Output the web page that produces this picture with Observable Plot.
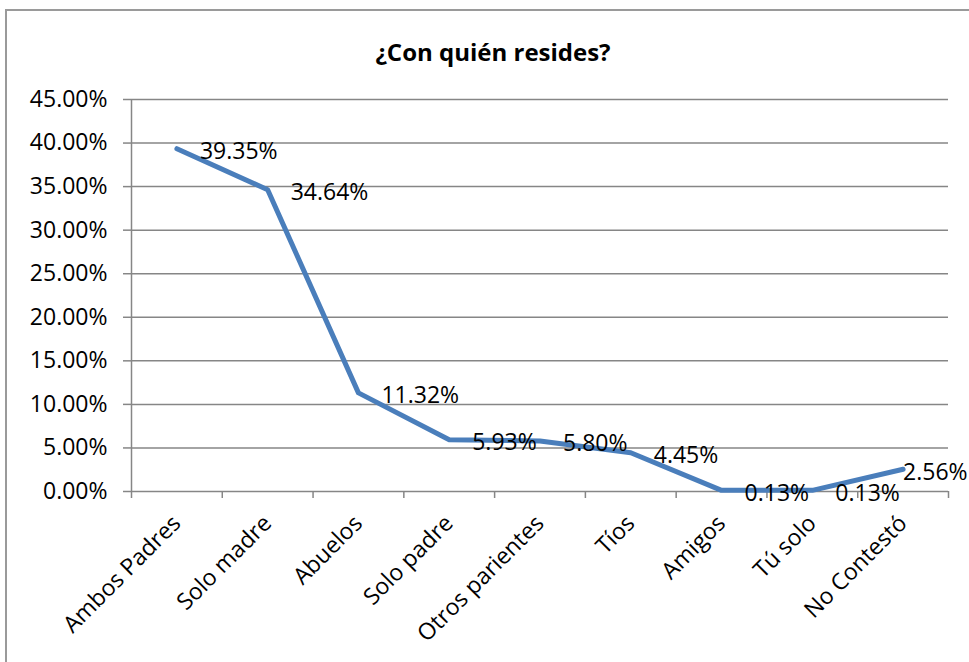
<!DOCTYPE html>
<html>
<head>
<meta charset="utf-8">
<script src="https://cdn.jsdelivr.net/npm/d3@7"></script>
<script src="https://cdn.jsdelivr.net/npm/@observablehq/plot@0.6"></script>
<style>
  html, body { margin: 0; padding: 0; background: #fff; overflow: hidden; width: 969px; height: 662px; }
  #wrap { position: relative; width: 969px; height: 662px; }
  #frame { position: absolute; left: 5px; top: 9px; width: 1000px; height: 700px; border: 2px solid #9a9a9a; box-sizing: border-box; }
  #title { position: absolute; left: 0; top: 35px; width: 986px; text-align: center; font-family: "Open Sans", sans-serif; font-weight: bold; font-size: 24px; color: #000; }
  #chart { position: absolute; left: 0; top: 0; }
</style>
</head>
<body>
<div id="wrap">
  <div id="frame"></div>
  <div id="title">¿Con quién resides?</div>
  <div id="chart"></div>
</div>
<script>
const categories = ["Ambos Padres", "Solo madre", "Abuelos", "Solo padre", "Otros parientes", "Tíos", "Amigos", "Tú solo", "No Contestó"];
const values = [0.3935, 0.3464, 0.1132, 0.0593, 0.0580, 0.0445, 0.0013, 0.0013, 0.0256];
const yTicks = [0, 0.05, 0.10, 0.15, 0.20, 0.25, 0.30, 0.35, 0.40, 0.45];

const data = categories.map((c, i) => ({cat: c, x: i + 0.5, v: values[i]}));
const pct = d => (d * 100).toFixed(2) + "%";
const boundaries = d3.range(categories.length + 1);
const gray = "#868686";

const chart = Plot.plot({
  width: 969,
  height: 662,
  marginLeft: 131,
  marginRight: 21,
  marginTop: 99,
  marginBottom: 171,
  x: {type: "linear", domain: [0, categories.length]},
  y: {domain: [0, 0.45]},
  style: {fontFamily: "'Open Sans', sans-serif", fontSize: "23px", color: "#000", background: "transparent", overflow: "visible"},
  marks: [
    Plot.ruleY(yTicks, {stroke: gray, strokeWidth: 1.5}),
    Plot.ruleX([0], {y1: 0, y2: 0.45, stroke: gray, strokeWidth: 1.5}),
    Plot.axisY({ticks: yTicks, tickFormat: pct, tickSize: 8, tickPadding: 16, stroke: gray, strokeWidth: 1.5, fontSize: 23, label: null}),
    Plot.axisX({ticks: boundaries, tickFormat: () => "", tickSize: 7, stroke: gray, strokeWidth: 1.5, label: null}),
    Plot.axisX({ticks: data.map(d => d.x), tickFormat: d => categories[Math.round(d - 0.5)], tickSize: 0, tickPadding: 28, tickRotate: -45, fontSize: 23, label: null}),
    Plot.line(data, {x: "x", y: "v", stroke: "#4a7ebb", strokeWidth: 5, strokeLinejoin: "round", strokeLinecap: "round"}),
    Plot.text(data.slice(0, -1), {x: "x", y: "v", text: d => pct(d.v), textAnchor: "start", dx: 23, dy: 3, fontSize: 23}),
    Plot.text(data.slice(-1), {x: "x", y: "v", text: d => pct(d.v), textAnchor: "start", dx: 0, dy: 3, fontSize: 23})
  ]
});
document.getElementById("chart").appendChild(chart);
</script>
</body>
</html>
